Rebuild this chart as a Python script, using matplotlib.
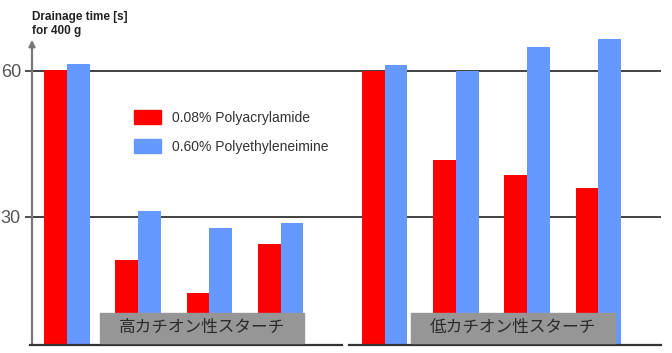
import numpy as np
import matplotlib
matplotlib.use("Agg")
import matplotlib.pyplot as plt
from matplotlib.patches import Patch, Rectangle

plt.rcParams['font.family'] = ['Liberation Sans', 'DejaVu Sans']

# data
panels = ['高カチオン性スターチ', '低カチオン性スターチ']
series = ['0.08% Polyacrylamide', '0.60% Polyethyleneimine']
pam = [60.2, 21.2, 14.4, 24.5, 60.0, 41.7, 38.6, 36.0]
pei = [61.4, 31.2, 27.7, 28.8, 61.2, 60.0, 64.9, 66.6]
yticks = [30, 60]
y_title = 'Drainage time [s]\nfor 400 g'

red, blue = '#ff0000', '#6699ff'
W, H = 672, 353
panel_gap = 1.46
bw = 0.32

fig = plt.figure(figsize=(W/100, H/100), dpi=100)
ylo, yhi = 3.7, 67.5
ax = fig.add_axes([32/W, (H-345)/H, 629/W, 0.8797])

n = len(pam) // 2
x = np.array([i + (panel_gap - 1 if i >= n else 0) for i in range(len(pam))], float)
ax.bar(x - bw/2, pam, bw, color=red, zorder=2)
ax.bar(x + bw/2, pei, bw, color=blue, zorder=2)

ax.set_xlim(-0.49, 8.34)
ax.set_ylim(ylo, yhi)
for s in ax.spines.values():
    s.set_visible(False)
ax.set_xticks([])
ax.set_yticks(yticks)
ax.tick_params(axis='y', length=5, width=1.2, color='#333', pad=3,
               labelsize=13, labelcolor='#555')
for t in yticks:
    ax.axhline(t, color='#333', lw=1.3, zorder=1)

# y axis with arrow
ax.annotate('', xy=(0, (66.4-ylo)/(yhi-ylo)), xytext=(0, 0),
            xycoords='axes fraction',
            arrowprops=dict(arrowstyle='-|>', color='#777', lw=1.6,
                            mutation_scale=9, shrinkA=0, shrinkB=0),
            annotation_clip=False)

# baseline, broken between the two panels
split = x[n-1] + 0.91
ax.plot([-0.52, split - 0.05], [ylo, ylo], color='#333', lw=1.6, clip_on=False, zorder=3)
ax.plot([split + 0.05, 8.34], [ylo, ylo], color='#333', lw=1.6, clip_on=False, zorder=3)

# panel labels in gray boxes
for cx, lab in zip([x[:n].mean() + 0.4, x[n:].mean() + 0.3], panels):
    ax.add_patch(Rectangle((cx - 1.435, 4.1), 2.87, 6.2, color='#969696', zorder=4))
    ax.text(cx, 7.2, lab, ha='center', va='center', fontsize=12, color='#2a2a2a',
            family=['Noto Sans CJK JP', 'DejaVu Sans'], zorder=5)

handles = [Patch(color=red), Patch(color=blue)]
leg = fig.legend(handles, series, loc='upper left',
                 bbox_to_anchor=(134/W, 1 - 110/H), frameon=False, fontsize=10,
                 handlelength=1.95, handleheight=1.22, handletextpad=0.8,
                 labelspacing=1.0, borderpad=0, borderaxespad=0)
for t in leg.get_texts():
    t.set_color('#333')

fig.text(32/W, 1 - 11/H, y_title, ha='left', va='top', fontsize=8.5,
         fontweight='bold', color='#222', linespacing=1.25)

fig.savefig('out.png', dpi=100)
